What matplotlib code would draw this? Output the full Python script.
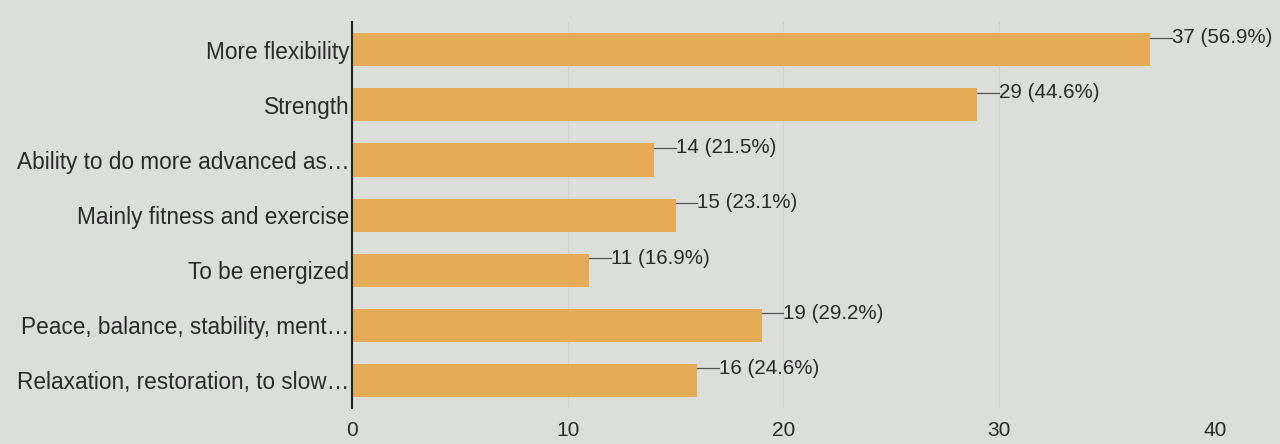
import matplotlib.pyplot as plt

plt.rcParams['font.family'] = ['Liberation Sans', 'DejaVu Sans']

categories = ["More flexibility", "Strength", "Ability to do more advanced as\u2026",
              "Mainly fitness and exercise", "To be energized",
              "Peace, balance, stability, ment\u2026", "Relaxation, restoration, to slow\u2026"]
counts = [37, 29, 14, 15, 11, 19, 16]
percents = ["56.9%", "44.6%", "21.5%", "23.1%", "16.9%", "29.2%", "24.6%"]
xticks = [0, 10, 20, 30, 40]

bg = "#dcdedc"
bar_color = "#e6ab56"
text_color = "#2a2a2a"

fig = plt.figure(figsize=(12.8, 4.44), dpi=100, facecolor=bg)
ax = fig.add_axes([0.275, 0.081, 0.674, 0.869], facecolor=bg)

y = list(range(len(categories)))
ax.barh(y, counts, height=0.6, color=bar_color, zorder=2)

for yi, c, p in zip(y, counts, percents):
    ax.plot([c, c + 1.0], [yi - 0.22, yi - 0.22], color="#555555", lw=0.9, zorder=3)
    ax.text(c + 1.0, yi - 0.22, f"{c} ({p})", va="center", ha="left",
            fontsize=14.8, color=text_color)

ax.set_ylim(6.5, -0.5)
ax.set_xlim(0, 40)
ax.set_yticks(y)
ax.set_yticklabels(categories, fontsize=16.3, color=text_color)
ax.set_xticks(xticks)
ax.set_xticklabels([str(t) for t in xticks], fontsize=15, color=text_color)
ax.tick_params(axis="both", length=0)
ax.tick_params(axis="x", pad=9)
ax.tick_params(axis="y", pad=2)

ax.grid(axis="x", color="#d0d2d0", lw=0.8, zorder=0)
for s in ["top", "right", "bottom"]:
    ax.spines[s].set_visible(False)
ax.spines["left"].set_color("#222222")
ax.spines["left"].set_linewidth(1.5)
ax.spines["left"].set_zorder(4)

fig.savefig("out.png", dpi=100, facecolor=bg)
